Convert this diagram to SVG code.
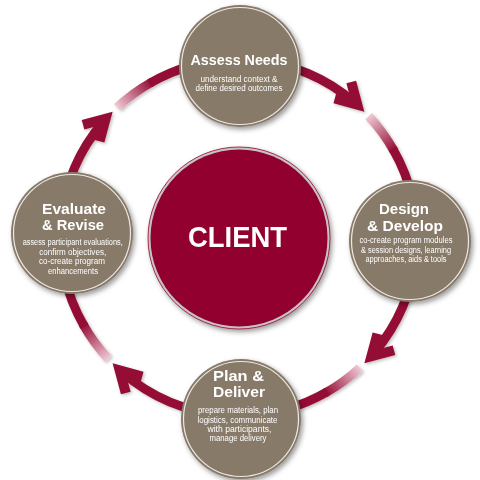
<svg xmlns="http://www.w3.org/2000/svg" xmlns:xlink="http://www.w3.org/1999/xlink" width="480" height="480" viewBox="0 0 480 480">
<defs>
<style>
.title{font-family:'Liberation Sans',Arial,sans-serif;font-weight:bold;fill:#fff;font-size:15.5px;text-anchor:middle}
.desc{font-family:'Liberation Sans',Arial,sans-serif;fill:#fff;font-size:8.3px;text-anchor:middle}
.node-bg{fill:#887a69}
.node-rim{fill:none;stroke:#ece8e3;stroke-width:1.2}
.arc{fill:none;stroke:#930b34;stroke-width:9}
.fade{fill:none;stroke-width:9}
.head{fill:#930b34}
</style>
<filter id="sh" x="-20%" y="-20%" width="140%" height="140%">
<feDropShadow dx="2" dy="2.5" stdDeviation="2.5" flood-color="#000" flood-opacity="0.4"/>
</filter>
<filter id="sh2" x="-10%" y="-10%" width="120%" height="120%">
<feDropShadow dx="1.5" dy="1.5" stdDeviation="1.5" flood-color="#000" flood-opacity="0.25"/>
</filter>
<linearGradient id="g1" gradientUnits="userSpaceOnUse" x1="117.1" y1="107.3" x2="152.2" y2="81.8"><stop offset="0" stop-color="#efc8d3"/><stop offset="1" stop-color="#930b34"/></linearGradient>
<linearGradient id="g2" gradientUnits="userSpaceOnUse" x1="368.7" y1="116.1" x2="394.2" y2="151.2"><stop offset="0" stop-color="#efc8d3"/><stop offset="1" stop-color="#930b34"/></linearGradient>
<linearGradient id="g3" gradientUnits="userSpaceOnUse" x1="359.9" y1="367.7" x2="324.8" y2="393.2"><stop offset="0" stop-color="#efc8d3"/><stop offset="1" stop-color="#930b34"/></linearGradient>
<linearGradient id="g4" gradientUnits="userSpaceOnUse" x1="108.3" y1="358.9" x2="82.8" y2="323.8"><stop offset="0" stop-color="#efc8d3"/><stop offset="1" stop-color="#930b34"/></linearGradient>
<path id="ah" class="head" d="M0 0 L-27.7 -16 L-32.7 -7.3 L-20 0 L-32.7 7.3 L-27.7 16 Z"/>
</defs>

<g id="connectors" filter="url(#sh2)">
<path class="fade" stroke="url(#g1)" d="M117.1 107.32 A178 178 0 0 1 152.2 81.82"/>
<path class="arc" d="M149.5 83.35 A178 178 0 0 1 354.1 102.15"/>
<use xlink:href="#ah" transform="translate(364.37 111.63) rotate(45)"/>
<path class="fade" stroke="url(#g2)" d="M368.68 116.1 A178 178 0 0 1 394.18 151.2"/>
<path class="arc" d="M392.65 148.5 A178 178 0 0 1 373.85 353.1"/>
<use xlink:href="#ah" transform="translate(364.37 363.37) rotate(135)"/>
<path class="fade" stroke="url(#g3)" d="M359.9 367.68 A178 178 0 0 1 324.8 393.18"/>
<path class="arc" d="M327.5 391.65 A178 178 0 0 1 122.9 372.85"/>
<use xlink:href="#ah" transform="translate(112.63 363.37) rotate(225)"/>
<path class="fade" stroke="url(#g4)" d="M108.32 358.9 A178 178 0 0 1 82.82 323.8"/>
<path class="arc" d="M84.35 326.5 A178 178 0 0 1 103.15 121.9"/>
<use xlink:href="#ah" transform="translate(112.63 111.63) rotate(315)"/>
</g>

<g id="client">
<circle cx="239" cy="238" r="91" fill="#c4c4c4" stroke="#93002f" stroke-width="0.8" filter="url(#sh)"/>
<circle cx="239" cy="238" r="88.5" fill="#920030"/>
<text x="237.5" y="246.7" font-family="'Liberation Sans',Arial,sans-serif" font-weight="bold" font-size="30" fill="#fff" text-anchor="middle" textLength="99" lengthAdjust="spacingAndGlyphs">CLIENT</text>
</g>

<g id="assess-needs">
<circle class="node-bg" cx="240" cy="66" r="61" filter="url(#sh)"/>
<circle class="node-rim" cx="240" cy="66" r="58.5"/>
<text class="title" x="239" y="65" textLength="97" lengthAdjust="spacingAndGlyphs">Assess Needs</text>
<text class="desc" x="239" y="82" textLength="77" lengthAdjust="spacingAndGlyphs">understand context &amp;</text>
<text class="desc" x="239" y="90.5" textLength="87" lengthAdjust="spacingAndGlyphs">define desired outcomes</text>
</g>

<g id="design-develop">
<circle class="node-bg" cx="410" cy="241" r="61" filter="url(#sh)"/>
<circle class="node-rim" cx="410" cy="241" r="58.5"/>
<text class="title" x="404" y="214.3" textLength="50" lengthAdjust="spacingAndGlyphs">Design</text>
<text class="title" x="405" y="231" textLength="76" lengthAdjust="spacingAndGlyphs">&amp; Develop</text>
<text class="desc" x="406" y="243.3" textLength="93" lengthAdjust="spacingAndGlyphs">co-create program modules</text>
<text class="desc" x="406" y="252.7" textLength="90" lengthAdjust="spacingAndGlyphs">&amp; session designs, learning</text>
<text class="desc" x="406" y="262" textLength="81" lengthAdjust="spacingAndGlyphs">approaches, aids &amp; tools</text>
</g>

<g id="plan-deliver">
<circle class="node-bg" cx="241" cy="419" r="60" filter="url(#sh)"/>
<circle class="node-rim" cx="241" cy="419" r="57.5"/>
<text class="title" x="238.5" y="381" textLength="51" lengthAdjust="spacingAndGlyphs">Plan &amp;</text>
<text class="title" x="239" y="396.8" textLength="52" lengthAdjust="spacingAndGlyphs">Deliver</text>
<text class="desc" x="238" y="413.3" textLength="80" lengthAdjust="spacingAndGlyphs">prepare materials, plan</text>
<text class="desc" x="237.5" y="422.5" textLength="80" lengthAdjust="spacingAndGlyphs">logistics, communicate</text>
<text class="desc" x="239.5" y="431.7" textLength="64" lengthAdjust="spacingAndGlyphs">with participants,</text>
<text class="desc" x="238" y="440.7" textLength="57" lengthAdjust="spacingAndGlyphs">manage delivery</text>
</g>

<g id="evaluate-revise">
<circle class="node-bg" cx="72" cy="233" r="61" filter="url(#sh)"/>
<circle class="node-rim" cx="72" cy="233" r="58.5"/>
<text class="title" x="74" y="213.7" textLength="64" lengthAdjust="spacingAndGlyphs">Evaluate</text>
<text class="title" x="73" y="229.5" textLength="62" lengthAdjust="spacingAndGlyphs">&amp; Revise</text>
<text class="desc" x="72.7" y="244.8" textLength="100" lengthAdjust="spacingAndGlyphs">assess participant evaluations,</text>
<text class="desc" x="72.7" y="254.7" textLength="67" lengthAdjust="spacingAndGlyphs">confirm objectives,</text>
<text class="desc" x="72" y="264" textLength="66" lengthAdjust="spacingAndGlyphs">co-create program</text>
<text class="desc" x="73" y="273.5" textLength="50" lengthAdjust="spacingAndGlyphs">enhancements</text>
</g>
</svg>
